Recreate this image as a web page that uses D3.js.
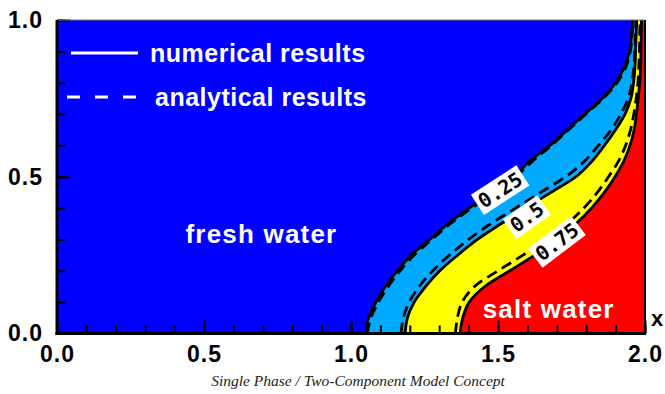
<!DOCTYPE html>
<html>
<head>
<meta charset="utf-8">
<script src="https://cdn.jsdelivr.net/npm/d3@7"></script>
<style>
  body { margin: 0; background: #fff; }
  svg { display: block; }
  .tick text { font-family: "Liberation Sans", Arial, sans-serif; font-weight: bold; }
</style>
</head>
<body>
<div id="chart"></div>
<script>
const yLevels = [0, 0.05, 0.1, 0.15, 0.2, 0.25, 0.3, 0.35, 0.4, 0.45, 0.5,
                 0.55, 0.6, 0.65, 0.7, 0.75, 0.8, 0.85, 0.9, 0.95, 1.0];

// numerical results: x of each concentration contour at yLevels
const num025 = [1.05, 1.06, 1.085, 1.117, 1.157, 1.205, 1.268, 1.33, 1.402, 1.48, 1.555,
                1.608, 1.677, 1.736, 1.795, 1.855, 1.9, 1.93, 1.947, 1.954, 1.958];
const num050 = [1.184, 1.192, 1.215, 1.254, 1.302, 1.363, 1.43, 1.51, 1.595, 1.68, 1.765,
                1.82, 1.862, 1.9, 1.932, 1.952, 1.961, 1.966, 1.968, 1.97, 1.972];
const num075 = [1.371, 1.38, 1.402, 1.455, 1.54, 1.625, 1.7, 1.765, 1.818, 1.862, 1.898,
                1.928, 1.949, 1.963, 1.971, 1.977, 1.982, 1.985, 1.986, 1.987, 1.988];

// analytical results
const ana025 = [1.055, 1.068, 1.093, 1.127, 1.167, 1.215, 1.275, 1.338, 1.41, 1.488, 1.56,
                1.618, 1.682, 1.74, 1.8, 1.858, 1.905, 1.935, 1.95, 1.956, 1.96];
const ana050 = [1.17, 1.178, 1.198, 1.232, 1.278, 1.335, 1.4, 1.475, 1.56, 1.645, 1.73,
                1.795, 1.842, 1.885, 1.918, 1.943, 1.956, 1.962, 1.965, 1.967, 1.969];
const ana075 = [1.355, 1.362, 1.378, 1.42, 1.5, 1.585, 1.665, 1.735, 1.792, 1.838, 1.876,
                1.91, 1.934, 1.951, 1.962, 1.97, 1.976, 1.979, 1.981, 1.982, 1.983];

// contour labels: text, position (data units), rotation
const labelText = ["0.25", "0.5", "0.75"];
const labelX = [1.507, 1.598, 1.70];
const labelY = [0.458, 0.372, 0.293];
const labelAngle = [-33, -35, -37];

const xTicks = [0.0, 0.5, 1.0, 1.5, 2.0];
const yTicks = [0.0, 0.5, 1.0];
const minorX = d3.range(0, 21).map(i => i / 10);
const minorY = d3.range(0, 11).map(i => i / 10);

const W = 665, H = 394;
const x = d3.scaleLinear().domain([0, 2]).range([57, 645]);
const y = d3.scaleLinear().domain([0, 1]).range([333.5, 20]);

const svg = d3.select("#chart").append("svg")
    .attr("width", W)
    .attr("height", H);

svg.append("defs").append("clipPath").attr("id", "plot")
    .append("rect")
    .attr("x", x(0)).attr("y", y(1))
    .attr("width", x(2) - x(0)).attr("height", y(0) - y(1));

const plot = svg.append("g").attr("clip-path", "url(#plot)");

const pts = arr => arr.map((v, i) => ({ x: v, y: yLevels[i] }));

// background = fresh water
plot.append("rect")
    .attr("x", x(0)).attr("y", y(1))
    .attr("width", x(2) - x(0)).attr("height", y(0) - y(1))
    .attr("fill", "#0000ff");

const area = d3.area()
    .y(d => y(d.y))
    .x0(d => x(d.x))
    .x1(x(2.05))
    .curve(d3.curveCatmullRom);

const fills = [
    { data: num025, color: "#00aaff" },
    { data: num050, color: "#ffff00" },
    { data: num075, color: "#ff0000" }
];
fills.forEach(f => {
    plot.append("path")
        .attr("d", area(pts(f.data)))
        .attr("fill", f.color);
});

const line = d3.line()
    .x(d => x(d.x))
    .y(d => y(d.y))
    .curve(d3.curveCatmullRom);

[ana025, ana050, ana075].forEach(a => {
    plot.append("path")
        .attr("d", line(pts(a)))
        .attr("fill", "none")
        .attr("stroke", "#000")
        .attr("stroke-width", 2.8)
        .attr("stroke-dasharray", "11,6");
});

[num025, num050, num075].forEach(a => {
    plot.append("path")
        .attr("d", line(pts(a)))
        .attr("fill", "none")
        .attr("stroke", "#000")
        .attr("stroke-width", 2.8);
});

// contour labels
labelText.forEach((t, i) => {
    const g = plot.append("g")
        .attr("transform", `translate(${x(labelX[i])},${y(labelY[i])}) rotate(${labelAngle[i]})`);
    const txt = g.append("text")
        .attr("text-anchor", "middle")
        .attr("dy", "0.36em")
        .attr("font-family", "'DejaVu Sans Mono', monospace")
        .attr("font-weight", "bold")
        .attr("font-size", 20)
        .attr("fill", "#000")
        .text(t);
    const bb = txt.node().getBBox();
    g.insert("rect", "text")
        .attr("x", bb.x - 3).attr("y", bb.y)
        .attr("width", bb.width + 6).attr("height", bb.height)
        .attr("fill", "#fff");
});

// region labels
const regionFont = "'Liberation Sans', Arial, sans-serif";
plot.append("text")
    .attr("x", x(0.437)).attr("y", y(0.288))
    .attr("font-family", regionFont).attr("font-weight", "bold")
    .attr("font-size", 26).attr("letter-spacing", 1.2)
    .attr("fill", "#fff")
    .text("fresh water");
plot.append("text")
    .attr("x", x(1.448)).attr("y", y(0.05))
    .attr("font-family", regionFont).attr("font-weight", "bold")
    .attr("font-size", 26).attr("letter-spacing", 1.2)
    .attr("fill", "#fff")
    .text("salt water");

// legend
const legend = svg.append("g");
legend.append("line")
    .attr("x1", 71).attr("x2", 138).attr("y1", 53).attr("y2", 53)
    .attr("stroke", "#fff").attr("stroke-width", 3);
legend.append("text")
    .attr("x", 150).attr("y", 62)
    .attr("font-family", regionFont).attr("font-weight", "bold")
    .attr("font-size", 25).attr("letter-spacing", 0.5)
    .attr("fill", "#fff")
    .text("numerical results");
legend.append("line")
    .attr("x1", 67).attr("x2", 138).attr("y1", 97).attr("y2", 97)
    .attr("stroke", "#fff").attr("stroke-width", 3)
    .attr("stroke-dasharray", "13,15");
legend.append("text")
    .attr("x", 155).attr("y", 106)
    .attr("font-family", regionFont).attr("font-weight", "bold")
    .attr("font-size", 25).attr("letter-spacing", 0.5)
    .attr("fill", "#fff")
    .text("analytical results");

// axes: minor ticks (inside), then major ticks with labels
const fmt = d3.format(".1f");

svg.append("g")
    .attr("transform", `translate(0,${y(0)})`)
    .call(d3.axisBottom(x).tickValues(minorX).tickSize(-8).tickFormat(""))
    .call(g => g.select(".domain").remove())
    .call(g => g.selectAll("line").attr("stroke-width", 2));

svg.append("g")
    .attr("transform", `translate(0,${y(0)})`)
    .call(d3.axisBottom(x).tickValues(xTicks).tickSize(-13).tickPadding(12).tickFormat(fmt))
    .call(g => g.select(".domain").remove())
    .call(g => g.selectAll("line").attr("stroke-width", 2))
    .call(g => g.selectAll("text").attr("font-size", 23).attr("letter-spacing", 1).attr("fill", "#000"));

svg.append("g")
    .attr("transform", `translate(${x(0)},0)`)
    .call(d3.axisLeft(y).tickValues(minorY).tickSize(-8).tickFormat(""))
    .call(g => g.select(".domain").remove())
    .call(g => g.selectAll("line").attr("stroke-width", 2));

svg.append("g")
    .attr("transform", `translate(${x(0)},0)`)
    .call(d3.axisLeft(y).tickValues(yTicks).tickSize(-13).tickPadding(14).tickFormat(fmt))
    .call(g => g.select(".domain").remove())
    .call(g => g.selectAll("line").attr("stroke-width", 2))
    .call(g => g.selectAll("text").attr("font-size", 23).attr("letter-spacing", 1).attr("fill", "#000"));

// frame
svg.append("line")
    .attr("x1", x(0)).attr("x2", x(2)).attr("y1", y(1)).attr("y2", y(1))
    .attr("stroke", "#777").attr("stroke-width", 1);
svg.append("line")
    .attr("x1", x(2)).attr("x2", x(2)).attr("y1", y(1)).attr("y2", y(0))
    .attr("stroke", "#000").attr("stroke-width", 2);
svg.append("line")
    .attr("x1", x(0)).attr("x2", x(0)).attr("y1", y(1)).attr("y2", y(0) + 1.5)
    .attr("stroke", "#000").attr("stroke-width", 3);
svg.append("line")
    .attr("x1", x(0) - 1.5).attr("x2", x(2) + 1).attr("y1", y(0)).attr("y2", y(0))
    .attr("stroke", "#000").attr("stroke-width", 3);

// axis name
svg.append("text")
    .attr("x", 651).attr("y", 326)
    .attr("font-family", regionFont).attr("font-weight", "bold")
    .attr("font-size", 22)
    .attr("fill", "#000")
    .text("x");

// caption
svg.append("text")
    .attr("x", 358).attr("y", 386)
    .attr("text-anchor", "middle")
    .attr("font-family", "'Liberation Serif', 'Times New Roman', serif")
    .attr("font-style", "italic")
    .attr("font-size", 15.5)
    .attr("fill", "#222")
    .text("Single Phase / Two-Component Model Concept");
</script>
</body>
</html>
